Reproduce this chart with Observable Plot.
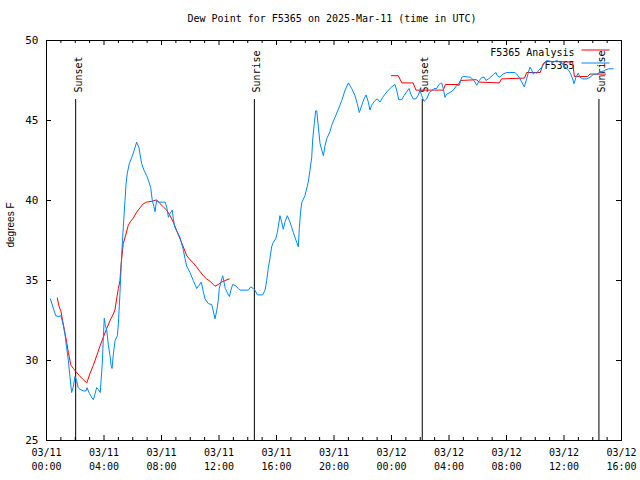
<!DOCTYPE html>
<html><head><meta charset="utf-8">
<script src="https://cdn.jsdelivr.net/npm/d3@7"></script>
<script src="https://cdn.jsdelivr.net/npm/@observablehq/plot@0.6"></script>
<style>
body{margin:0;background:#fff;}
#wrap{position:relative;width:640px;height:480px;font-family:"DejaVu Sans Mono",monospace;}
#title{position:absolute;left:0;top:13px;width:640px;text-align:center;font-size:10px;line-height:12px;padding-left:24px;box-sizing:border-box;color:#000;}
#wrap svg{position:absolute;left:0;top:0;}
</style></head><body><div id="wrap"></div>
<script>
const titleText = "Dew Point for F5365 on 2025-Mar-11 (time in UTC)";
const yLabel = "degrees F";
const seriesNames = ["F5365 Analysis", "F5365"];
const seriesColors = ["#ff0000", "#0088ff"];

// hours since 03/11 00:00 UTC
const tickHours = [0, 4, 8, 12, 16, 20, 24, 28, 32, 36, 40];
const tickDates = ["03/11","03/11","03/11","03/11","03/11","03/11","03/12","03/12","03/12","03/12","03/12"];
const tickTimes = ["00:00","04:00","08:00","12:00","16:00","20:00","00:00","04:00","08:00","12:00","16:00"];
const minorHours = d3.range(0, 41).filter(h => h % 4 !== 0);
const yTicks = [25, 30, 35, 40, 45, 50];

const eventHours = [2.03, 14.46, 26.14, 38.43];
const eventNames = ["Sunset", "Sunrise", "Sunset", "Sunrise"];

// F5365 observations [hour, dew point F]
const obs = [
[0.27,33.85],[0.64,32.8],[0.87,32.75],[1.0,32.8],[1.17,32.2],[1.29,31.6],[1.4,30.8],[1.52,30.0],[1.63,29.0],[1.75,28.0],[1.87,28.4],[1.98,29.0],[2.1,28.75],[2.2,28.3],[2.33,28.2],[2.56,28.1],[2.75,28.1],[2.82,28.3],[2.98,27.95],[3.14,27.7],[3.26,27.55],[3.37,27.9],[3.49,28.3],[3.6,28.2],[3.74,28.0],[3.79,28.65],[3.88,29.8],[3.95,31.35],[4.02,32.65],[4.09,32.2],[4.19,31.9],[4.3,31.0],[4.42,30.3],[4.49,29.7],[4.56,29.5],[4.65,30.4],[4.77,31.25],[4.93,31.55],[5.0,32.3],[5.11,34.2],[5.23,36.65],[5.34,38.3],[5.46,40.0],[5.53,41.0],[5.62,41.7],[5.76,42.3],[5.93,42.7],[6.09,43.1],[6.27,43.65],[6.43,43.3],[6.62,42.3],[6.78,41.9],[6.97,41.55],[7.15,41.1],[7.25,40.8],[7.36,40.0],[7.48,39.6],[7.55,39.3],[7.66,40.0],[7.78,39.9],[8.25,39.9],[8.36,39.6],[8.48,38.95],[8.6,39.2],[8.75,39.4],[8.82,38.85],[8.94,38.3],[9.06,38.1],[9.29,37.7],[9.4,37.3],[9.52,36.9],[9.64,36.35],[9.75,35.9],[9.98,35.5],[10.21,35.0],[10.45,34.5],[10.61,34.7],[10.77,34.9],[10.91,34.3],[11.03,33.85],[11.26,33.55],[11.49,33.5],[11.6,33.1],[11.72,32.6],[11.84,33.1],[11.95,33.75],[12.02,34.5],[12.19,35.1],[12.26,35.3],[12.35,34.9],[12.44,34.5],[12.6,34.2],[12.72,34.0],[12.83,34.4],[12.95,34.75],[13.11,34.7],[13.35,34.5],[13.46,34.4],[14.04,34.4],[14.2,34.6],[14.39,34.5],[14.5,34.4],[14.67,34.1],[14.85,34.1],[15.04,34.1],[15.2,34.4],[15.32,35.0],[15.43,35.8],[15.55,36.4],[15.66,37.1],[15.78,37.4],[15.94,37.6],[16.06,38.0],[16.13,38.4],[16.24,39.05],[16.36,38.65],[16.47,38.2],[16.59,38.65],[16.75,39.05],[16.94,38.65],[17.17,38.0],[17.4,37.4],[17.52,37.1],[17.59,38.3],[17.68,39.3],[17.75,39.85],[17.98,40.3],[18.21,41.15],[18.33,41.9],[18.45,42.7],[18.52,43.85],[18.63,44.8],[18.72,45.6],[18.8,45.6],[18.91,44.6],[19.03,43.55],[19.26,42.8],[19.37,43.4],[19.49,43.85],[19.72,44.3],[19.84,44.7],[20.07,45.2],[20.3,45.7],[20.54,46.25],[20.77,46.9],[21.0,47.35],[21.23,47.0],[21.46,46.55],[21.62,46.05],[21.76,45.5],[21.93,45.95],[22.09,46.35],[22.23,46.6],[22.39,46.15],[22.5,45.65],[22.62,45.95],[22.85,46.25],[23.01,46.35],[23.2,46.15],[23.39,46.45],[23.55,46.65],[23.78,46.9],[24.01,47.1],[24.24,47.25],[24.36,46.9],[24.5,46.3],[24.71,46.3],[24.87,46.55],[25.06,46.8],[25.22,47.0],[25.34,46.65],[25.52,46.35],[25.7,46.35],[25.87,46.6],[25.98,46.9],[26.1,46.55],[26.26,46.2],[26.45,46.35],[26.63,46.75],[26.8,46.85],[26.96,47.0],[27.14,47.0],[27.3,47.25],[27.42,47.33],[27.5,47.33],[27.6,47.0],[27.72,46.45],[27.84,46.65],[28.07,46.75],[28.3,46.9],[28.54,47.2],[28.72,47.2],[28.88,47.7],[29.04,47.75],[29.5,47.7],[29.74,47.5],[29.93,47.2],[30.11,47.5],[30.28,47.7],[30.45,47.7],[30.57,47.5],[30.74,47.6],[30.9,47.7],[31.08,47.88],[31.27,48.0],[31.36,47.8],[31.55,47.7],[31.74,47.9],[32.01,48.0],[32.59,48.0],[32.7,47.9],[32.89,47.7],[33.06,47.4],[33.24,47.1],[33.4,47.6],[33.52,48.0],[33.63,48.33],[33.75,48.17],[33.86,47.9],[33.98,48.0],[34.1,47.95],[34.21,48.1],[34.45,48.33],[34.61,48.54],[34.8,48.75],[35.03,48.7],[35.26,48.65],[35.49,48.75],[35.72,48.65],[35.91,48.54],[36.07,48.33],[36.3,48.17],[36.47,47.9],[36.6,47.6],[36.7,47.3],[36.83,47.7],[36.99,47.96],[37.11,47.7],[37.3,47.6],[37.58,47.6],[37.81,47.7],[38.04,47.88],[38.27,47.9],[38.5,48.0],[38.73,48.1],[38.92,48.17],[39.08,48.23],[39.43,48.23]
];

// F5365 Analysis, first segment [hour, dew point F]
const analysis1 = [
[0.75,33.9],[0.87,33.4],[1.0,33.1],[1.12,32.5],[1.29,31.7],[1.4,31.15],[1.52,30.5],[1.7,29.7],[1.87,29.5],[2.05,29.3],[2.28,29.06],[2.56,28.8],[2.8,28.6],[3.03,29.2],[3.26,29.7],[3.49,30.3],[3.72,30.9],[3.95,31.45],[4.19,32.0],[4.42,32.5],[4.65,32.9],[4.77,33.2],[4.88,33.85],[5.0,34.5],[5.11,35.0],[5.17,35.8],[5.23,36.35],[5.34,37.3],[5.53,37.9],[5.69,38.45],[5.85,38.7],[6.04,38.9],[6.27,39.27],[6.5,39.54],[6.74,39.8],[6.97,39.9],[7.32,39.95],[7.66,40.04],[7.9,39.8],[8.13,39.6],[8.36,39.4],[8.59,39.06],[8.82,38.65],[9.06,38.1],[9.29,37.6],[9.52,37.1],[9.75,36.56],[9.98,36.3],[10.21,36.1],[10.45,35.83],[10.68,35.56],[10.91,35.3],[11.14,35.1],[11.37,34.96],[11.6,34.75],[11.72,34.64],[11.95,34.75],[12.19,34.9],[12.42,35.0],[12.72,35.1]
];
// F5365 Analysis, second segment
const analysis2 = [
[24.0,47.8],[24.47,47.8],[24.72,47.35],[25.5,47.35],[25.7,46.9],[27.6,46.9],[27.75,47.25],[28.65,47.25],[28.8,47.5],[29.9,47.55],[30.1,47.4],[31.5,47.35],[31.65,47.6],[33.25,47.65],[33.4,48.0],[34.35,48.0],[34.55,48.55],[34.75,48.7],[36.6,48.65],[36.72,47.75],[37.65,47.75],[37.8,47.9],[38.9,47.9]
];

const W = 640, H = 480, ML = 46, MR = 19, MT = 40, MB = 40;
const FW = W - ML - MR, FH = H - MT - MB;
const mono = "DejaVu Sans Mono, monospace";

const chart = Plot.plot({
  width: W, height: H,
  marginLeft: ML, marginRight: MR, marginTop: MT, marginBottom: MB,
  x: {domain: [0, 40], axis: null},
  y: {domain: [25, 50], axis: null},
  style: {fontFamily: mono, fontSize: "10px", background: "transparent", color: "black"},
  marks: [
    // ticks (inward)
    Plot.tickX(tickHours, {x: d => d, insetTop: FH - 5, stroke: "black"}),
    Plot.tickX(tickHours, {x: d => d, insetBottom: FH - 5, stroke: "black"}),
    Plot.tickX(minorHours, {x: d => d, insetTop: FH - 3, stroke: "black"}),
    Plot.tickX(minorHours, {x: d => d, insetBottom: FH - 3, stroke: "black"}),
    Plot.tickY(yTicks, {y: d => d, insetRight: FW - 5, stroke: "black"}),
    Plot.tickY(yTicks, {y: d => d, insetLeft: FW - 5, stroke: "black"}),
    // tick labels
    Plot.text(yTicks, {y: d => d, text: d => String(d), frameAnchor: "left", textAnchor: "end", dx: -8, fontSize: 11}),
    Plot.text(tickHours, {x: d => d, text: (d, i) => tickDates[i], frameAnchor: "bottom", lineAnchor: "top", dy: 8}),
    Plot.text(tickHours, {x: d => d, text: (d, i) => tickTimes[i], frameAnchor: "bottom", lineAnchor: "top", dy: 22}),
    // y label
    Plot.text([yLabel], {text: d => d, frameAnchor: "left", rotate: -90, dx: -36, dy: 7, fontFamily: "Liberation Sans, sans-serif", fontSize: 10}),
    // sunrise / sunset
    Plot.ruleX(eventHours, {x: d => d, insetTop: 59, stroke: "black"}),
    Plot.text(eventHours, {x: d => d, text: (d, i) => eventNames[i], frameAnchor: "top", rotate: -90, textAnchor: "start", dy: 52, dx: -1}),
    // legend
    Plot.text([seriesNames[0]], {text: d => d, frameAnchor: "top-right", textAnchor: "end", dx: -47, dy: 8}),
    Plot.text([seriesNames[1]], {text: d => d, frameAnchor: "top-right", textAnchor: "end", dx: -47, dy: 21}),
    Plot.frame({fill: seriesColors[0], stroke: null, insetLeft: FW - 40, insetRight: 12, insetTop: 9, insetBottom: FH - 10}),
    Plot.frame({fill: seriesColors[1], stroke: null, insetLeft: FW - 40, insetRight: 12, insetTop: 22, insetBottom: FH - 23}),
    // data
    Plot.line(analysis1, {x: d => d[0], y: d => d[1], stroke: seriesColors[0], strokeWidth: 1}),
    Plot.line(analysis2, {x: d => d[0], y: d => d[1], stroke: seriesColors[0], strokeWidth: 1}),
    Plot.line(obs, {x: d => d[0], y: d => d[1], stroke: seriesColors[1], strokeWidth: 1}),
    Plot.frame({stroke: "black"})
  ]
});

const wrap = document.getElementById("wrap");
wrap.appendChild(chart);
const t = document.createElement("div");
t.id = "title";
t.textContent = titleText;
wrap.appendChild(t);
</script>
</body></html>
